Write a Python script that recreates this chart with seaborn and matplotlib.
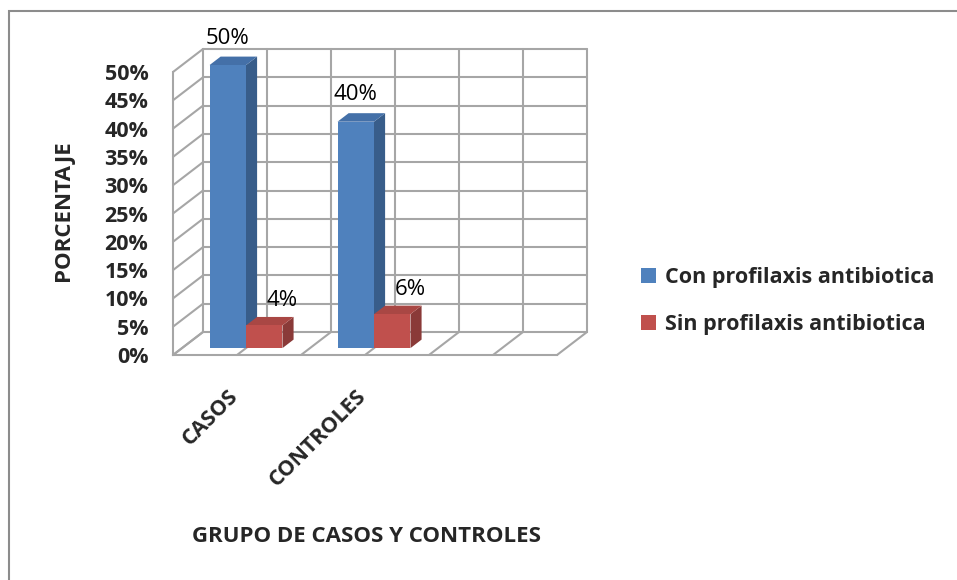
import numpy as np
import pandas as pd
import seaborn as sns
import matplotlib.pyplot as plt
from matplotlib.patches import Polygon, Rectangle, Patch
from matplotlib.lines import Line2D
from matplotlib.transforms import ScaledTranslation, IdentityTransform

# Datos
grupos = ["CASOS", "CONTROLES"]
series = ["Con profilaxis antibiotica", "Sin profilaxis antibiotica"]
con_profilaxis = [50, 40]
sin_profilaxis = [4, 6]
ticks_y = list(range(0, 55, 5))

colores = ["#4F81BD", "#C0504D"]
lados = ["#385D8A", "#8A3A38"]
techos = ["#4470A8", "#A94744"]
gris = "#A6A6A6"

sns.set_style("white")
plt.rcParams["font.family"] = ["Open Sans", "DejaVu Sans"]

fig = plt.figure(figsize=(9.57, 5.8), dpi=100)
fig.patch.set_facecolor("white")
ax = fig.add_axes([173 / 957, 225 / 580, 384 / 957, 283 / 580])
ax.patch.set_visible(False)

df = pd.DataFrame({
    "grupo": grupos * 2,
    "serie": [series[0]] * len(grupos) + [series[1]] * len(grupos),
    "valor": con_profilaxis + sin_profilaxis,
})
sns.barplot(data=df, x="grupo", y="valor", hue="serie", hue_order=series,
            palette=colores, width=0.57, saturation=1, legend=False,
            linewidth=0, ax=ax, zorder=3)
ax.set_xlim(-0.5, 2.5)
ax.set_ylim(0, 50)
ax.set_autoscale_on(False)

# profundidad 3D en pixeles
PROF = np.array([30.0, 23.0])


def px(x, y, d):
    return ax.transData.transform((x, y)) + d * PROF


def linea(p0, p1, z=0.5):
    ax.add_line(Line2D([p0[0], p1[0]], [p0[1], p1[1]], color=gris, lw=1.5,
                       transform=IdentityTransform(), clip_on=False, zorder=z))


# pared del fondo, pared izquierda y piso
for v in ticks_y:
    linea(px(-0.5, v, 1), px(2.5, v, 1))
    linea(px(-0.5, v, 0), px(-0.5, v, 1))
for xv in np.arange(-0.5, 2.51, 0.5):
    linea(px(xv, 0, 1), px(xv, 50, 1))
    linea(px(xv, 0, 0), px(xv, 0, 1))

# barras en 3D
d0, d1 = 0.3, 0.67
desp = ScaledTranslation(d0 * PROF[0] / 100, d0 * PROF[1] / 100, fig.dpi_scale_trans)
for i, p in enumerate(ax.patches):
    s = i // len(grupos)
    x0, w, h = p.get_x(), p.get_width(), p.get_height()
    p.set_transform(ax.transData + desp)
    p.set_clip_on(False)
    lado = [px(x0 + w, 0, d0), px(x0 + w, h, d0), px(x0 + w, h, d1), px(x0 + w, 0, d1)]
    techo = [px(x0, h, d0), px(x0 + w, h, d0), px(x0 + w, h, d1), px(x0, h, d1)]
    for verts, c in [(lado, lados[s]), (techo, techos[s])]:
        ax.add_patch(Polygon(verts, closed=True, facecolor=c, edgecolor="none",
                             transform=IdentityTransform(), clip_on=False, zorder=2.5))
    dx, dy = (9, 34) if s == 0 else (27, 32)
    ax.annotate(f"{h:.0f}%", (x0 + w / 2, h), xytext=(dx, dy),
                textcoords="offset pixels", ha="center", va="center",
                fontsize=16, color="black")

# ejes
for lado_s in ["top", "right"]:
    ax.spines[lado_s].set_visible(False)
for lado_s in ["left", "bottom"]:
    ax.spines[lado_s].set_color(gris)
    ax.spines[lado_s].set_linewidth(1.5)

ax.set_yticks(ticks_y)
ax.set_yticklabels([f"{v}%" for v in ticks_y], fontsize=15.5, fontweight="bold")
ax.tick_params(axis="y", length=5.8, width=1.5, color=gris, pad=12)

ax.set_xticks([0, 1])
ax.set_xticklabels(grupos, rotation=45, ha="right", va="top",
                   fontsize=15.5, fontweight="bold")
ax.set_xticks([-0.5, 0.5, 1.5, 2.5], minor=True)
ax.tick_params(axis="x", which="major", length=0, pad=22)
ax.tick_params(axis="x", which="minor", length=5.8, width=1.5, color=gris)
for t in ax.get_xticklabels():
    t.set_transform(t.get_transform() + ScaledTranslation(0.05, 0, fig.dpi_scale_trans))

ax.set_xlabel("GRUPO DE CASOS Y CONTROLES", fontsize=16, fontweight="bold")
ax.xaxis.set_label_coords(0.503, -0.605)
ax.set_ylabel("PORCENTAJE", fontsize=16, fontweight="bold")
ax.yaxis.set_label_coords(-0.258, 0.51)

handles = [Patch(facecolor=c, edgecolor="none") for c in colores]
fig.legend(handles, series, loc="center left", bbox_to_anchor=(622 / 957, 1 - 301 / 580),
           frameon=False, prop={"weight": "bold", "size": 15.5},
           handlelength=0.7, handleheight=0.7, handletextpad=0.4, labelspacing=1.2)

# borde del grafico
fig.add_artist(Rectangle((9, -20), 970, 589, transform=IdentityTransform(),
                         fill=False, edgecolor="#8C8C8C", lw=1.5))

fig.savefig("out.png", dpi=100)
